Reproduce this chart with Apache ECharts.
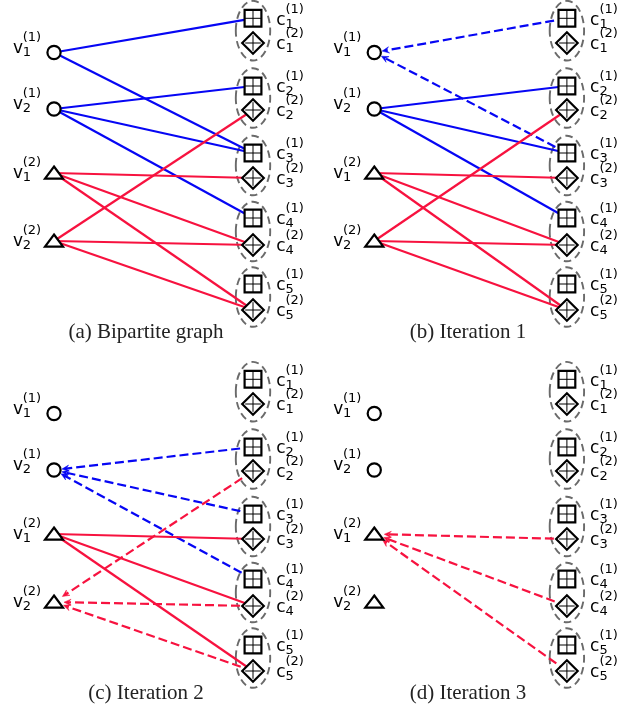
<!DOCTYPE html>
<html><head><meta charset="utf-8">
<script src="https://cdn.jsdelivr.net/npm/echarts@6/dist/echarts.min.js"></script>
<style>html,body{margin:0;padding:0;background:#fff}#c{width:624px;height:713px}</style>
</head><body><div id="c"></div>
<script>
// ---- data ----
const varRows = [52.5, 109, 173, 241];
const varSub = [1, 2, 1, 2];
const varSup = [1, 1, 2, 2];
const varShape = [0, 0, 1, 1];            // 0 circle, 1 triangle
const checkRows = [18.3, 43, 86, 110, 153, 178, 218, 245, 284, 310];
const checkSub = [1, 1, 2, 2, 3, 3, 4, 4, 5, 5];
const checkSup = [1, 2, 1, 2, 1, 2, 1, 2, 1, 2];
const checkShape = [2, 3, 2, 3, 2, 3, 2, 3, 2, 3]; // 2 square+plus, 3 diamond+plus
// edges: [variable index, check index, colour (0 blue, 1 red), dashed (0/1)]
const edgesA = [[0,0,0,0],[0,4,0,0],[1,2,0,0],[1,4,0,0],[1,6,0,0],
                [2,5,1,0],[2,7,1,0],[2,9,1,0],[3,3,1,0],[3,7,1,0],[3,9,1,0]];
const edgesB = [[0,0,0,1],[0,4,0,1],[1,2,0,0],[1,4,0,0],[1,6,0,0],
                [2,5,1,0],[2,7,1,0],[2,9,1,0],[3,3,1,0],[3,7,1,0],[3,9,1,0]];
const edgesC = [[1,2,0,1],[1,4,0,1],[1,6,0,1],
                [2,5,1,0],[2,7,1,0],[2,9,1,0],[3,3,1,1],[3,7,1,1],[3,9,1,1]];
const edgesD = [[2,5,1,1],[2,7,1,1],[2,9,1,1]];
const captions = ['(a) Bipartite graph', '(b) Iteration 1', '(c) Iteration 2', '(d) Iteration 3'];

// ---- layout / style ----
const panelEdges = [edgesA, edgesB, edgesC, edgesD];
const panelLeft = [0, 322, 0, 322];
const panelTop = [0, 0, 361, 361];
const PW = 312, PH = 330, VXP = 54, CXP = 253;
const edgeColors = ['#0606f4', '#f7123f'];
const sansFont = '"DejaVu Sans", sans-serif';
const serifFont = '"Liberation Serif", "DejaVu Serif", serif';

const chart = echarts.init(document.getElementById('c'), null, {renderer: 'canvas'});

const grids = [], xAxes = [], yAxes = [], series = [], titles = [];
const xmin = -VXP / (CXP - VXP), xmax = (PW - VXP) / (CXP - VXP);

function renderEllipse(params, api) {
  const p = api.coord([api.value(0), api.value(1)]);
  return {type: 'ellipse', shape: {cx: p[0], cy: p[1], rx: 17.2, ry: 29.8},
    style: {fill: null, stroke: '#6a6a6a', lineWidth: 1.9, lineDash: [7.5, 4.5]}};
}
function renderEdge(params, api) {
  const pv = api.coord([api.value(0), api.value(1)]);
  const pc = api.coord([api.value(2), api.value(3)]);
  const col = edgeColors[api.value(4)];
  const dashed = api.value(5) === 1;
  if (!dashed) {
    return {type: 'line', shape: {x1: pc[0], y1: pc[1], x2: pv[0], y2: pv[1]},
      style: {stroke: col, lineWidth: 2.2}};
  }
  const dx = pv[0] - pc[0], dy = pv[1] - pc[1];
  const L = Math.sqrt(dx * dx + dy * dy), ux = dx / L, uy = dy / L;
  const rTip = api.value(6) === 0 ? 8 : 10;
  const tip = [pv[0] - ux * rTip, pv[1] - uy * rTip];
  const al = 7, aw = 3.2;
  const base = [tip[0] - ux * al, tip[1] - uy * al];
  const nx = -uy, ny = ux;
  return {type: 'group', children: [
    {type: 'line', shape: {x1: pc[0], y1: pc[1], x2: tip[0] - ux * 4, y2: tip[1] - uy * 4},
      style: {stroke: col, lineWidth: 2.2, lineDash: [9, 4]}},
    {type: 'polygon', shape: {points: [tip, [base[0] + nx * aw, base[1] + ny * aw],
      [tip[0] - ux * al * 0.6, tip[1] - uy * al * 0.6], [base[0] - nx * aw, base[1] - ny * aw]]},
      style: {fill: col, stroke: col, lineWidth: 0.5}}
  ]};
}
function renderNode(params, api) {
  const p = api.coord([api.value(0), api.value(1)]);
  const s = api.value(2);
  const st = {stroke: '#000', fill: '#fff', lineWidth: 2.2, lineJoin: 'miter'};
  const thin = {stroke: '#000', lineWidth: 1};
  if (s === 0) return {type: 'circle', shape: {cx: p[0], cy: p[1], r: 6.6}, style: st};
  if (s === 1) return {type: 'polygon', shape: {points: [[p[0], p[1] - 6.5], [p[0] + 9, p[1] + 5.7], [p[0] - 9, p[1] + 5.7]]}, style: st};
  if (s === 2) {
    const h = 8.4;
    return {type: 'group', children: [
      {type: 'rect', shape: {x: p[0] - h, y: p[1] - h, width: 2 * h, height: 2 * h}, style: st},
      {type: 'line', shape: {x1: p[0] - h, y1: p[1], x2: p[0] + h, y2: p[1]}, style: thin},
      {type: 'line', shape: {x1: p[0], y1: p[1] - h, x2: p[0], y2: p[1] + h}, style: thin}]};
  }
  const d = 10.8;
  return {type: 'group', children: [
    {type: 'polygon', shape: {points: [[p[0], p[1] - d], [p[0] + d, p[1]], [p[0], p[1] + d], [p[0] - d, p[1]]]}, style: st},
    {type: 'line', shape: {x1: p[0] - d + 3, y1: p[1], x2: p[0] + d - 3, y2: p[1]}, style: thin},
    {type: 'line', shape: {x1: p[0], y1: p[1] - d + 3, x2: p[0], y2: p[1] + d - 3}, style: thin}]};
}
function renderLabel(params, api) {
  const p = api.coord([api.value(0), api.value(1)]);
  const kind = api.value(2), sub = api.value(3), sup = api.value(4), shp = api.value(5);
  let mainX, scriptX, my, letter;
  if (kind === 0) { letter = 'v'; mainX = p[0] - 31; scriptX = p[0] - 31.3; my = p[1] + (shp === 0 ? -4.2 : 0.5); }
  else { letter = 'c'; mainX = p[0] + 32.5; scriptX = p[0] + 32.5; my = p[1] + 2; }
  const big = '17px ' + sansFont, small = '13px ' + sansFont;
  return {type: 'group', children: [
    {type: 'text', style: {text: letter, x: mainX, y: my, font: big, fill: '#000', align: 'right', verticalAlign: 'middle'}},
    {type: 'text', style: {text: String(sub), x: scriptX, y: my + 4, font: small, fill: '#000', align: 'left', verticalAlign: 'middle'}},
    {type: 'text', style: {text: '(' + sup + ')', x: scriptX, y: my - 11, font: small, fill: '#000', align: 'left', verticalAlign: 'middle'}}
  ]};
}

for (let k = 0; k < 4; k++) {
  grids.push({left: panelLeft[k], top: panelTop[k], width: PW, height: PH});
  xAxes.push({type: 'value', gridIndex: k, min: xmin, max: xmax, show: false});
  yAxes.push({type: 'value', gridIndex: k, min: 0, max: PH, inverse: true, show: false});

  const ellData = [];
  for (let g = 0; g < checkRows.length / 2; g++) ellData.push([1, (checkRows[2 * g] + checkRows[2 * g + 1]) / 2]);
  series.push({type: 'custom', xAxisIndex: k, yAxisIndex: k, z: 1, clip: false, silent: true,
    renderItem: renderEllipse, data: ellData});

  const edgeData = panelEdges[k].map(e => [0, varRows[e[0]], 1, checkRows[e[1]], e[2], e[3], varShape[e[0]]]);
  series.push({type: 'custom', xAxisIndex: k, yAxisIndex: k, z: 2, clip: false, silent: true,
    renderItem: renderEdge, encode: {x: [0, 2], y: [1, 3]}, data: edgeData});

  const nodeData = varRows.map((r, i) => [0, r, varShape[i]])
    .concat(checkRows.map((r, i) => [1, r, checkShape[i]]));
  series.push({type: 'custom', xAxisIndex: k, yAxisIndex: k, z: 3, clip: false, silent: true,
    renderItem: renderNode, data: nodeData});

  const labelData = varRows.map((r, i) => [0, r, 0, varSub[i], varSup[i], varShape[i]])
    .concat(checkRows.map((r, i) => [1, r, 1, checkSub[i], checkSup[i], checkShape[i]]));
  series.push({type: 'custom', xAxisIndex: k, yAxisIndex: k, z: 4, clip: false, silent: true,
    renderItem: renderLabel, data: labelData});

  titles.push({text: captions[k], left: panelLeft[k] + 146, top: panelTop[k] + 322, textAlign: 'center', padding: 0,
    textStyle: {fontFamily: serifFont, fontSize: 21, fontWeight: 'normal', color: '#222'}});
}

chart.setOption({animation: false, backgroundColor: '#fff', title: titles,
  grid: grids, xAxis: xAxes, yAxis: yAxes, series: series});
</script></body></html>
